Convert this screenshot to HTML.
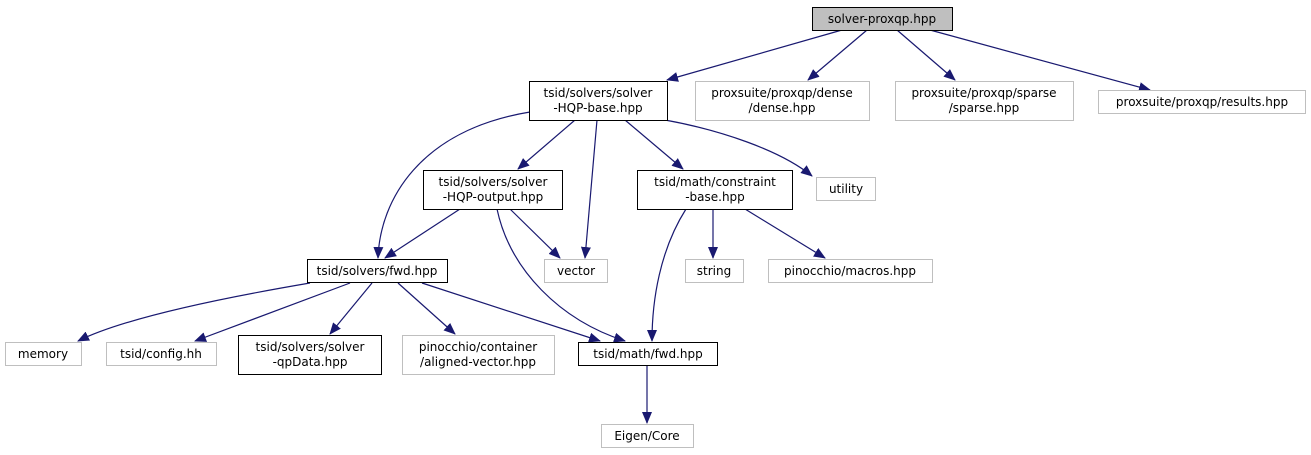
<!DOCTYPE html>
<html><head><meta charset="utf-8"><style>
html,body{margin:0;padding:0;background:#fff;width:1311px;height:455px;overflow:hidden}
text{font-family:"DejaVu Sans","Liberation Sans",sans-serif;font-size:12px;fill:#000}
</style></head><body>
<svg width="1311" height="455" viewBox="0 0 1311 455" xmlns="http://www.w3.org/2000/svg">
<defs><marker id="a" markerWidth="12" markerHeight="10" refX="11" refY="5" orient="auto" markerUnits="userSpaceOnUse"><path d="M0,0 L12,5 L0,10 z" fill="#191970"/></marker></defs>
<g fill="none" stroke="#191970" stroke-width="1.2" marker-end="url(#a)">
<path d="M842,30 L667,80"/>
<path d="M867,30 L808,80"/>
<path d="M897,30 L955,80"/>
<path d="M930,30 L1150,90"/>
<path d="M530,112 C420,130 380,200 378,258"/>
<path d="M575,120 L518,169"/>
<path d="M597,120 L585,258"/>
<path d="M625,120 L683,169"/>
<path d="M665,120 C720,130 780,150 812,176"/>
<path d="M460,209 L385,258"/>
<path d="M510,209 L560,258"/>
<path d="M497,209 C510,270 560,320 625,341"/>
<path d="M686,209 C660,250 652,300 652,341"/>
<path d="M713,209 L713,258"/>
<path d="M745,209 L825,258"/>
<path d="M310,283 C210,300 120,320 78,341"/>
<path d="M350,283 L195,341"/>
<path d="M372,283 L330,334"/>
<path d="M398,283 L455,334"/>
<path d="M422,283 L600,341"/>
<path d="M647,365 L647,423"/>
</g>
<g stroke-width="1">
<rect x="812.5" y="7.5" width="140" height="23" fill="#bfbfbf" stroke="#000"/>
<rect x="529.5" y="81.5" width="138" height="39" fill="#fff" stroke="#000"/>
<rect x="695.5" y="81.5" width="174" height="39" fill="#fff" stroke="#bfbfbf"/>
<rect x="895.5" y="81.5" width="178" height="39" fill="#fff" stroke="#bfbfbf"/>
<rect x="1098.5" y="90.5" width="207" height="23" fill="#fff" stroke="#bfbfbf"/>
<rect x="423.5" y="170.5" width="139" height="39" fill="#fff" stroke="#000"/>
<rect x="637.5" y="170.5" width="155" height="39" fill="#fff" stroke="#000"/>
<rect x="816.5" y="177.5" width="59" height="23" fill="#fff" stroke="#bfbfbf"/>
<rect x="544.5" y="259.5" width="63" height="23" fill="#fff" stroke="#bfbfbf"/>
<rect x="307.5" y="259.5" width="140" height="23" fill="#fff" stroke="#000"/>
<rect x="685.5" y="259.5" width="58" height="23" fill="#fff" stroke="#bfbfbf"/>
<rect x="768.5" y="259.5" width="164" height="23" fill="#fff" stroke="#bfbfbf"/>
<rect x="5.5" y="342.5" width="76" height="23" fill="#fff" stroke="#bfbfbf"/>
<rect x="106.5" y="342.5" width="110" height="23" fill="#fff" stroke="#bfbfbf"/>
<rect x="238.5" y="335.5" width="143" height="39" fill="#fff" stroke="#000"/>
<rect x="402.5" y="335.5" width="152" height="39" fill="#fff" stroke="#bfbfbf"/>
<rect x="578.5" y="342.5" width="139" height="23" fill="#fff" stroke="#000"/>
<rect x="601.5" y="424.5" width="92" height="23" fill="#fff" stroke="#bfbfbf"/>
</g>
<g text-anchor="middle">
<text x="882" y="23">solver-proxqp.hpp</text>
<text x="598" y="97">tsid/solvers/solver</text><text x="598" y="112">-HQP-base.hpp</text>
<text x="782" y="97">proxsuite/proxqp/dense</text><text x="782" y="112">/dense.hpp</text>
<text x="984" y="97">proxsuite/proxqp/sparse</text><text x="984" y="112">/sparse.hpp</text>
<text x="1202" y="106">proxsuite/proxqp/results.hpp</text>
<text x="493" y="186">tsid/solvers/solver</text><text x="493" y="201">-HQP-output.hpp</text>
<text x="715" y="186">tsid/math/constraint</text><text x="715" y="201">-base.hpp</text>
<text x="846" y="193">utility</text>
<text x="576" y="275">vector</text>
<text x="377" y="275">tsid/solvers/fwd.hpp</text>
<text x="714" y="275">string</text>
<text x="850" y="275">pinocchio/macros.hpp</text>
<text x="43" y="358">memory</text>
<text x="161" y="358">tsid/config.hh</text>
<text x="310" y="351">tsid/solvers/solver</text><text x="310" y="366">-qpData.hpp</text>
<text x="478" y="351">pinocchio/container</text><text x="478" y="366">/aligned-vector.hpp</text>
<text x="648" y="358">tsid/math/fwd.hpp</text>
<text x="647" y="440">Eigen/Core</text>
</g>
</svg>
</body></html>
